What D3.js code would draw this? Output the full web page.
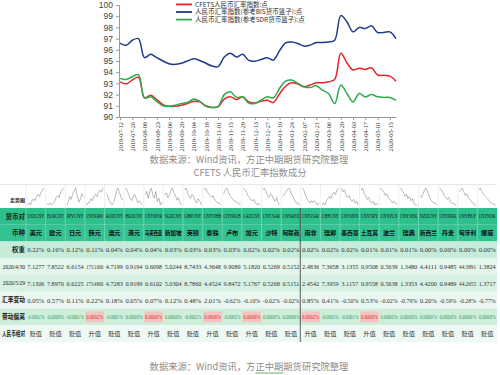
<!DOCTYPE html>
<html>
<head>
<meta charset="utf-8">
<script src="https://cdn.jsdelivr.net/npm/d3@7/dist/d3.min.js"></script>
<style>
  body { margin: 0; background: #fff; }
  svg { display: block; }
</style>
</head>
<body>
<svg id="chart" width="500" height="375"></svg>
<script>
// ---- line chart data (weekly, Fridays)
const dates = ["2019-07-12","2019-07-19","2019-07-26","2019-08-02","2019-08-09","2019-08-16","2019-08-23","2019-08-30",
  "2019-09-06","2019-09-13","2019-09-20","2019-09-27","2019-10-04","2019-10-11","2019-10-18","2019-10-25",
  "2019-11-01","2019-11-08","2019-11-15","2019-11-22","2019-11-29","2019-12-06","2019-12-13","2019-12-20",
  "2019-12-27","2020-01-03","2020-01-10","2020-01-17","2020-01-24","2020-01-31","2020-02-07","2020-02-14",
  "2020-02-21","2020-02-28","2020-03-06","2020-03-13","2020-03-20","2020-03-27","2020-04-03","2020-04-10",
  "2020-04-17","2020-04-24","2020-05-01","2020-05-08","2020-05-15","2020-05-22"]
const cfets = [93.13,92.95,93.3,93.55,91.7,91.95,91.55,91.1,90.95,90.95,91.05,91.2,91.4,91.35,91.0,90.85,
  90.9,91.6,91.8,91.55,91.8,91.35,91.25,91.4,91.5,91.3,92.05,92.75,93.05,92.95,92.7,92.85,
  93.05,93.05,93.15,93.35,95.7,94.85,94.2,94.35,94.25,94.4,93.75,93.72,93.65,93.2]
const bis = [96.6,96.4,96.85,97.0,95.3,95.6,95.3,95.0,94.75,94.7,94.8,95.0,95.2,95.05,94.8,94.55,
  94.5,95.35,95.7,95.35,95.6,95.05,94.98,95.14,95.3,95.08,95.9,96.62,96.7,96.56,96.33,96.42,
  96.65,96.65,96.7,96.86,99.05,98.5,97.6,98.0,97.9,98.15,97.55,97.55,97.6,97.0]
const sdr = [93.45,93.35,93.6,93.78,91.7,91.8,91.4,91.0,90.95,91.05,91.2,91.3,91.6,91.4,90.95,90.85,
  90.95,92.0,92.25,91.75,91.8,91.25,91.2,91.5,91.8,91.7,92.55,93.2,93.3,93.0,92.7,92.63,
  92.8,92.4,92.1,91.2,92.85,92.1,91.35,92.1,91.8,92.0,91.8,91.75,91.75,91.5]
const seriesNames = ["CFETS人民币汇率指数:点", "人民币汇率指数(参考BIS货币篮子):点", "人民币汇率指数(参考SDR货币篮子):点"]
const sourceText = "数据来源：Wind资讯，方正中期期货研究院整理"
const titleText = "CFETS 人民币汇率指数成分"

// ---- table data
const rowLabels = ["走势图", "货币对", "币种", "权重", "2020/4/30", "2020/5/29", "汇率变动", "带动偏离", "人民币相对"]
const pairs = ["USDCNY","EURCNY","JPYCNY","CNYKRW","AUDCNY","HKDCNY","CNYMYR","SGDCNY","GBPCNY","CNYTHB","CNYRUB","CADCNY",
  "CNYSAR","CNYAED","CNYZAR","CHFCNY","CNYMXN","CNYTRY","CNYPLN","CNYSEK","NZDCNY","CNYDKK","CNYHUF","CNYNOK"]
const names = ["美元","欧元","日元","韩元","澳元","港元","马来西亚","新加坡","英镑","泰铢","卢布","加元",
  "沙特","阿联酋","南非","瑞郎","墨西哥","土耳其","波兰","瑞典","新西兰","丹麦","匈牙利","挪威"]
const weights = ["0.22%","0.16%","0.12%","0.11%","0.04%","0.04%","0.04%","0.03%","0.03%","0.03%","0.03%","0.02%",
  "0.02%","0.02%","0.02%","0.02%","0.02%","0.01%","0.01%","0.01%","0.00%","0.00%","0.00%","0.00%"]
const rateApr = ["7.1277","7.8522","6.6154","173.1000","4.7199","0.9194","0.6098","5.0244","8.7433","4.3648","9.9089","5.1820",
  "0.5269","0.5152","2.4836","7.3658","3.1355","0.9508","0.5639","1.3480","4.4111","0.9485","44.3891","1.3824"]
const rateMay = ["7.1306","7.8970","6.6225","173.4800","4.7283","0.9199","0.6102","5.0304","8.7860","4.4524","9.8472","5.1767",
  "0.5268","0.5151","2.4542","7.3959","3.1157","0.9558","0.5638","1.3353","4.4200","0.9489","44.2655","1.3717"]
const changes = ["0.05%","0.57%","0.11%","0.22%","0.18%","0.05%","0.07%","0.12%","0.48%","2.01%","-0.62%","-0.10%",
  "-0.02%","-0.02%","0.85%","0.41%","-0.50%","0.53%","-0.02%","-0.79%","0.20%","-0.59%","-0.28%","-0.77%"]
const deviations = ["-0.0001%","-0.0009%","-0.0001%","0.0002%","-0.0001%","0.0000%","0.0000%","0.0000%","-0.0002%","0.0006%","-0.0002%","0.0000%",
  "0.0000%","0.0000%","0.0002%","-0.0001%","-0.0001%","0.0000%","0.0000%","0.0000%","0.0000%","0.0000%","0.0000%","0.0000%"]
const cnyMoves = ["贬值","贬值","贬值","升值","贬值","贬值","升值","贬值","贬值","升值","贬值","升值",
  "贬值","贬值","升值","贬值","贬值","升值","贬值","贬值","贬值","贬值","贬值","贬值"]
// rough shapes of the small trend lines in the first table row
const sparks = [
  [2,3,2,4,5,4,6,7,6,8,9,10],[2,1,2,1,2,3,5,6,5,8,9,10],[4,5,7,6,8,9,10,7,5,6,8,7],[2,3,3,5,4,6,7,6,8,9,8,10],
  [8,7,5,4,3,4,6,9,10,8,6,5],[9,8,6,4,3,5,6,4,2,3,2,1],[5,6,4,6,7,5,4,6,3,4,2,3],[6,7,5,6,8,9,7,6,4,5,3,2],
  [8,9,7,5,4,6,5,3,2,4,3,1],[9,10,8,7,6,5,6,4,3,2,2,1],[7,9,10,8,6,5,4,3,3,2,2,1],[10,9,8,6,5,4,3,4,2,1,2,1],
  [9,10,8,6,5,7,6,4,3,5,2,1],[5,6,7,8,9,8,6,5,3,2,2,1],[9,8,6,4,3,2,3,2,3,2,1,2],[2,3,2,4,5,6,5,7,8,7,9,10],
  [10,8,9,6,5,6,4,3,4,2,3,1],[9,10,7,6,4,5,3,2,3,1,2,1],[10,9,8,6,7,5,4,3,2,3,2,1],[9,8,7,5,6,4,5,3,4,2,1,1],
  [6,5,7,9,10,8,6,4,3,2,2,1],[10,9,8,6,5,4,5,3,2,2,1,1],[8,9,10,8,6,7,5,4,3,2,1,1],[9,10,8,7,6,5,4,3,2,2,1,1]]

const svg = d3.select("#chart")
const cjk = "'Noto Sans CJK SC', 'Liberation Sans', sans-serif"

// squeeze a text horizontally so it fits in w px (like the narrow cells of the original sheet)
function fit(sel, w) {
  sel.each(function () {
    const t = d3.select(this), len = this.getComputedTextLength()
    const s = len > w ? w / len : 1
    t.attr("transform", "translate(" + t.attr("x") + "," + t.attr("y") + ") scale(" + s + ",1)").attr("x", 0).attr("y", 0)
  })
}

// ---------- line chart
const x = d3.scalePoint().domain(dates).range([120, 396])
const y = d3.scaleLinear().domain([90, 100]).range([117, 5])
const lineColors = ["#e8252b", "#20398c", "#2fab4e"]
const allSeries = [cfets, bis, sdr]

svg.append("g").attr("transform", "translate(119,0)")
  .call(d3.axisLeft(y).ticks(10).tickSize(3))
  .call(g => g.selectAll("text").attr("font-size", 8.5).attr("font-family", "'Liberation Sans', Arial").attr("fill", "#404040"))
  .call(g => g.selectAll("line,path").attr("stroke", "#9a9a9a"))

svg.append("g").attr("transform", "translate(0,117)")
  .call(d3.axisBottom(x).tickValues(dates.filter((d, i) => i % 2 === 0)).tickSize(3).tickSizeOuter(0))
  .call(g => g.selectAll("line,path").attr("stroke", "#9a9a9a"))
  .call(g => g.selectAll("text").attr("transform", "rotate(-90)").attr("x", -5).attr("y", 0).attr("dy", "0.35em")
    .attr("text-anchor", "end").attr("font-size", 6.3).attr("font-family", "'Liberation Serif', serif").attr("fill", "#333"))

const lineGen = d3.line().curve(d3.curveCatmullRom.alpha(0.5)).x((d, i) => x(dates[i])).y(d => y(d))
svg.selectAll(".series").data(allSeries).join("path").attr("class", "series")
  .attr("d", lineGen).attr("fill", "none").attr("stroke", (d, i) => lineColors[i]).attr("stroke-width", 1.5)

// legend
const lg = svg.selectAll(".lg").data(seriesNames).join("g").attr("class", "lg")
  .attr("transform", (d, i) => "translate(176," + (4.4 + i * 7.6) + ")")
lg.append("line").attr("x1", 0).attr("x2", 16).attr("stroke", (d, i) => lineColors[i]).attr("stroke-width", 1.8)
lg.append("text").attr("x", 19).attr("dy", "0.35em").attr("font-size", 6.5).attr("font-family", cjk).attr("fill", "#333").text(d => d)

// captions
svg.append("text").attr("x", 249).attr("y", 160).attr("dy", "0.35em").attr("text-anchor", "middle")
  .attr("font-size", 9.3).attr("font-family", cjk).attr("fill", "#8c8c8c").text(sourceText)
svg.append("text").attr("x", 250).attr("y", 173).attr("dy", "0.35em").attr("text-anchor", "middle")
  .attr("font-size", 9.3).attr("font-family", cjk).attr("fill", "#8c8c8c").text(titleText)

// ---------- table
const col = d3.scaleBand().domain(pairs).range([26, 497])
const row = d3.scaleBand().domain(rowLabels.slice(1)).range([208, 342])
const rowFill = { "货币对": "#2dbf8c", "币种": "#33c291", "权重": "#c6ebd9", "2020/4/30": "#e4f5ec", "2020/5/29": "#d8f0e4",
  "汇率变动": "#e9f7f0", "带动偏离": "#ceeedb", "人民币相对": "#eff9f4" }
const bodyRows = [
  { key: "货币对", vals: pairs }, { key: "币种", vals: names }, { key: "权重", vals: weights },
  { key: "2020/4/30", vals: rateApr }, { key: "2020/5/29", vals: rateMay }, { key: "汇率变动", vals: changes },
  { key: "带动偏离", vals: deviations }, { key: "人民币相对", vals: cnyMoves }]

// sparkline row
svg.append("line").attr("x1", 0).attr("x2", 497).attr("y1", 184.5).attr("y2", 184.5).attr("stroke", "#d6d6d6").attr("stroke-width", 0.6)
svg.selectAll(".spsep").data(pairs).join("line").attr("class", "spsep")
  .attr("x1", d => col(d)).attr("x2", d => col(d)).attr("y1", 185).attr("y2", 208).attr("stroke", "#e4e4e4").attr("stroke-width", 0.6)
sparks.forEach((s, i) => {
  const sx = d3.scalePoint().domain(d3.range(s.length)).range([col(pairs[i]) + 1.5, col(pairs[i]) + col.bandwidth() - 1.5])
  const sy = d3.scaleLinear().domain(d3.extent(s)).range([205, 188])
  svg.append("path").attr("d", d3.line().x((d, j) => sx(j)).y(d => sy(d))(s))
    .attr("fill", "none").attr("stroke", "#8a8a8a").attr("stroke-width", 0.6)
})
svg.append("text").attr("x", 25).attr("y", 202).attr("text-anchor", "end").attr("font-size", 5)
  .attr("font-family", cjk).attr("font-weight", "bold").attr("fill", "#222").text(rowLabels[0])

// row backgrounds
svg.selectAll(".rowbg").data(bodyRows).join("rect").attr("class", "rowbg")
  .attr("x", 0).attr("width", 497).attr("y", d => row(d.key)).attr("height", row.bandwidth()).attr("fill", d => rowFill[d.key])

// highlighted (升值) cells in deviation row
svg.selectAll(".hl").data(pairs.filter((p, i) => cnyMoves[i] === "升值")).join("rect").attr("class", "hl")
  .attr("x", d => col(d) + 0.5).attr("width", col.bandwidth() - 1).attr("y", row("带动偏离") + 3).attr("height", row.bandwidth() - 6)
  .attr("fill", "#f5c4c1")

// white separators in header rows
svg.selectAll(".hsep").data(pairs).join("line").attr("class", "hsep")
  .attr("x1", d => col(d)).attr("x2", d => col(d)).attr("y1", 208).attr("y2", row("权重"))
  .attr("stroke", "#ffffff").attr("stroke-opacity", 0.45).attr("stroke-width", 0.6)

// row labels
const labels = svg.selectAll(".rl").data(bodyRows).join("text").attr("class", "rl")
  .attr("x", 25).attr("y", d => row(d.key) + row.bandwidth() / 2).attr("dy", "0.35em").attr("text-anchor", "end")
  .attr("font-size", d => d.key.startsWith("2020") ? 5.5 : 6.5).attr("font-family", d => d.key.startsWith("2020") ? "'Liberation Serif', serif" : cjk)
  .attr("font-weight", d => d.key.startsWith("2020") ? "normal" : "bold").attr("fill", "#1a1a1a").text(d => d.key)
fit(labels, 23)

// cells
bodyRows.forEach(r => {
  const isHead = r.key === "货币对" || r.key === "币种"
  const isText = r.key === "币种" || r.key === "人民币相对"
  const cells = svg.selectAll(null).data(r.vals).join("text")
    .attr("x", (d, i) => col(pairs[i]) + col.bandwidth() / 2).attr("y", row(r.key) + row.bandwidth() / 2)
    .attr("dy", "0.35em").attr("text-anchor", "middle")
    .attr("font-size", isText ? 6.2 : (r.key === "货币对" ? 5.6 : 7))
    .attr("font-family", isText ? cjk : "'Liberation Serif', serif")
    .attr("font-weight", r.key === "币种" ? "bold" : "normal")
    .attr("fill", (d, i) => r.key === "带动偏离" ? (cnyMoves[i] === "升值" ? "#d8302b" : "#2e9a5e") : (isHead ? "#111" : "#333"))
    .text(d => d)
  fit(cells, col.bandwidth() - 2.5)
})

// dark group divider
const divX = col("CNYZAR") - 0.5
svg.append("line").attr("x1", divX).attr("x2", divX).attr("y1", 208).attr("y2", 342).attr("stroke", "#333").attr("stroke-width", 0.8)

// bottom caption
const cap = svg.append("text").attr("x", 249).attr("y", 367).attr("dy", "0.35em").attr("text-anchor", "middle")
  .attr("font-size", 9.3).attr("font-family", cjk).attr("fill", "#8c8c8c").text(sourceText)
const capNode = cap.node()
const u0 = sourceText.indexOf("正中期")
svg.append("line").attr("x1", capNode.getStartPositionOfChar(u0).x).attr("x2", capNode.getEndPositionOfChar(u0 + 2).x)
  .attr("y1", 373).attr("y2", 373).attr("stroke", "#3f9d4a").attr("stroke-width", 0.8)
</script>
</body>
</html>
